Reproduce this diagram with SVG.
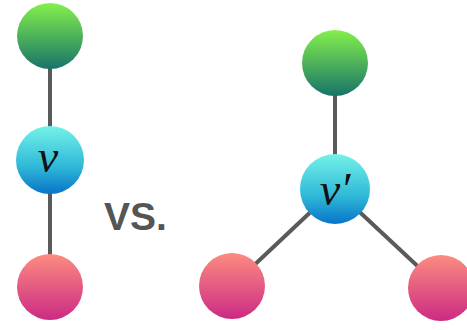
<svg xmlns="http://www.w3.org/2000/svg" width="467" height="330" viewBox="0 0 467 330">
  <defs>
    <linearGradient id="gGreen" x1="0" y1="0" x2="0" y2="1">
      <stop offset="0" stop-color="#84f04c"/>
      <stop offset="1" stop-color="#187468"/>
    </linearGradient>
    <linearGradient id="gBlue" x1="0" y1="0" x2="0" y2="1">
      <stop offset="0" stop-color="#74f2e8"/>
      <stop offset="0.6" stop-color="#2fb8d8"/>
      <stop offset="1" stop-color="#0874c8"/>
    </linearGradient>
    <linearGradient id="gPink" x1="0" y1="0" x2="0" y2="1">
      <stop offset="0" stop-color="#fc8c80"/>
      <stop offset="1" stop-color="#cc2a84"/>
    </linearGradient>
  </defs>
  <style>
    .edge { stroke: #5a5a5a; stroke-width: 4; stroke-linecap: round; fill: none; }
    .green { fill: url(#gGreen); }
    .blue { fill: url(#gBlue); }
    .pink { fill: url(#gPink); }
    .math { font-family: "Liberation Serif", "DejaVu Serif", serif; font-style: italic; font-size: 46px; fill: #111; text-anchor: middle; }
    .vs { font-family: "Liberation Sans", Arial, sans-serif; font-weight: bold; font-size: 39px; fill: #555; }
  </style>

  <!-- connectors -->
  <g id="edges">
    <line class="edge" x1="50" y1="36" x2="50" y2="287"/>
    <line class="edge" x1="335" y1="63" x2="335" y2="189"/>
    <line class="edge" x1="335" y1="189" x2="232" y2="286"/>
    <line class="edge" x1="335" y1="189" x2="441" y2="288"/>
  </g>

  <!-- left chain -->
  <g id="left-top"><circle class="green" cx="50" cy="36" r="33"/></g>
  <g id="left-v">
    <circle class="blue" cx="50" cy="160" r="34"/>
    <text class="math" x="48" y="172">v</text>
  </g>
  <g id="left-bottom"><circle class="pink" cx="50" cy="287" r="33"/></g>

  <text class="vs" x="104" y="230">VS.</text>

  <!-- right star -->
  <g id="right-top"><circle class="green" cx="335" cy="63" r="33"/></g>
  <g id="right-v">
    <circle class="blue" cx="335" cy="189" r="35"/>
    <text class="math" x="335" y="205">v′</text>
  </g>
  <g id="right-left"><circle class="pink" cx="232" cy="286" r="33"/></g>
  <g id="right-right"><circle class="pink" cx="441" cy="288" r="33"/></g>
</svg>
